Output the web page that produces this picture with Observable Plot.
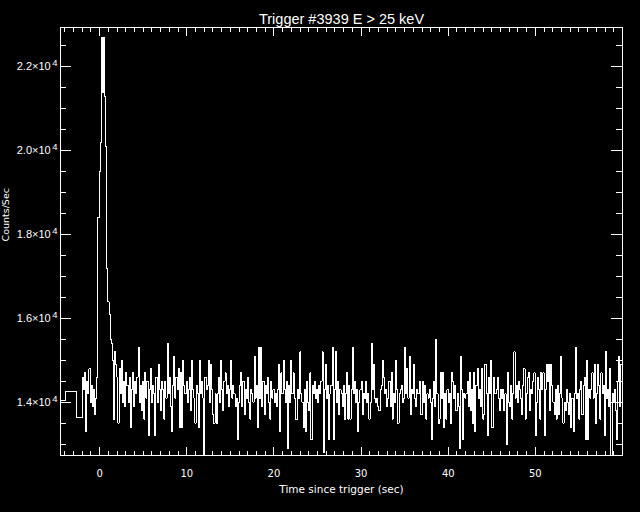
<!DOCTYPE html>
<html><head><meta charset="utf-8">
<script src="https://cdn.jsdelivr.net/npm/d3@7"></script>
<script src="https://cdn.jsdelivr.net/npm/@observablehq/plot@0.6"></script>
<style>
html,body{margin:0;padding:0;background:#000;overflow:hidden;}
#chart svg{display:block;}
</style></head><body><div id="chart"></div>
<script>
const titleText = "Trigger #3939 E > 25 keV";
const xLabel = "Time since trigger (sec)";
const yLabel = "Counts/Sec";
const xTickValues = [0, 10, 20, 30, 40, 50];
const xTickLabels = ["0", "10", "20", "30", "40", "50"];
const yTickValues = [14000, 16000, 18000, 20000, 22000];
const yTickMantissa = ["1.4×10", "1.6×10", "1.8×10", "2.0×10", "2.2×10"];
const yTickExponent = "4";

// pre-trigger coarse bins (bin start time, counts/sec)
const coarseTimes = [-4.6, -3.93, -2.70];
const coarseCounts = [14050, 14250, 13630];

// fine bins from -2.0 s, 0.128 s each (counts/sec)
const fineStart = -2.0;
const fineStep = 0.128;
const fineCounts = [
14600,14300,14700,13300,14500,14200,14800,14000,
14400,13900,14300,13700,14100,14600,18400,19500,
20200,22700,21400,22700,21300,20100,17200,16400,
16100,15500,15400,15000,13600,15200,14900,14600,
13500,14800,14200,15000,14000,14500,13900,14700,
14400,14000,14600,13400,14300,14700,13900,14500,
14200,14600,15300,14000,14400,13800,14500,13600,
14700,14100,14500,13200,14300,14800,14000,14400,
14200,13200,14600,14000,14900,14300,13800,14500,
14300,13600,14500,14100,15400,14200,14600,13900,
13300,14400,15100,14100,14600,14300,14800,13400,
14700,13400,15000,14400,14200,14500,14000,14300,
14600,13800,15000,14300,14100,13500,14400,14200,
13400,15000,14200,14500,14100,12700,14600,14300,
14400,15000,14000,14900,14300,13700,13500,14200,
13500,14200,14600,14000,15000,14300,13800,14500,
14700,14200,14400,13900,14300,15000,14100,14400,
14200,13900,14100,13100,14000,14400,14700,13900,
14500,13700,14300,14100,14600,14000,13600,14300,
14200,14000,15100,14100,14400,13400,15300,14100,
15300,13900,14500,13700,14400,14200,14600,14000,
13600,14500,14100,14300,14000,14200,13900,14300,
14900,13300,14700,14200,15000,14300,14000,14500,
12900,14400,14000,15000,14200,14700,14100,13600,
13600,14300,14100,15200,14200,14000,13400,14300,
13300,14500,14000,13800,14700,13100,14400,14200,
14500,14100,14300,14000,14400,14200,14500,15200,
12800,14300,14900,14100,14400,13100,14200,14400,
15300,13100,14300,15200,14000,14500,13700,14300,
14200,13900,14400,13600,14200,14700,13600,14400,
13600,14300,15300,14200,14500,14000,14300,13300,
14000,14300,14500,13700,14200,14100,14500,14000,
14200,13600,14000,15400,14300,14900,14100,14000,
14100,13900,13800,14300,14400,15000,14600,14200,
14300,13900,14100,14500,13900,14700,13600,14200,
14000,15000,14300,13500,14200,14300,14400,14000,
14100,15300,14200,14800,14100,15100,13700,14300,
14200,14900,14100,13900,14300,14200,14500,13700,
13700,14500,14000,14400,13600,14200,14100,14300,
14000,13100,14100,14500,13900,15500,14200,13500,
13600,14700,14100,14700,13400,14200,13600,14300,
14000,14200,13500,14700,14500,14100,14400,13800,
14200,13900,12900,15100,14300,13100,14200,14100,
14200,14500,13900,14700,13800,14300,13500,14700,
13300,14400,14800,14100,14300,13900,14800,13600,
13700,14900,14200,13200,14600,14200,15000,13400,
13400,14600,14200,14300,14600,14100,13800,14300,
14100,14300,13800,14200,13000,14700,14000,13900,
14400,13600,14200,15200,14100,14400,14000,14500,
14300,14100,13700,14400,14800,13600,14200,14600,
14700,13800,14300,14200,14500,14700,13200,14000,
14600,14300,13600,14700,14300,14700,13200,14300,
14900,14500,14900,13800,14900,14400,14000,13700,
14300,13600,14400,13700,14200,15100,14100,13500,
14000,13800,14300,14000,13700,14200,13400,14100,
13300,14200,15300,14100,14200,13600,14300,14500,
13700,14400,14600,13100,15000,13100,14300,14100,
14300,14700,14100,14900,13500,14200,14900,14400,
13600,14700,14200,14400,13200,15200,14100,14300,
13900,14800,12700,14200,14000,14300,13800,13100,
14500,15100,13900,14900,13200,14000,14200,14100
];

const data = [
  ...coarseTimes.map((t, i) => ({t, c: coarseCounts[i]})),
  ...fineCounts.map((c, i) => ({t: fineStart + i * fineStep, c}))
];

const W = 640, H = 512, mL = 60, mR = 18, mT = 27, mB = 57;
const plotH = H - mT - mB;
const plotW = W - mL - mR;
const xMinor = d3.range(-4, 60, 1).filter(v => v % 10 !== 0);
const yMinor = d3.range(13000, 23000, 500).filter(v => v % 2000 !== 0);
const crisp = {stroke: "white", strokeWidth: 1, shapeRendering: "crispEdges"};

const chart = Plot.plot({
  width: W, height: H,
  marginLeft: mL, marginRight: mR, marginTop: mT, marginBottom: mB,
  style: {background: "black", color: "white", fontFamily: "DejaVu Sans"},
  x: {domain: [-4.5, 60]},
  y: {domain: [12730, 22940]},
  marks: [
    Plot.line(data, {x: "t", y: "c", curve: "step-after", clip: true, ...crisp}),
    Plot.frame(crisp),
    // bottom ticks
    Plot.tickX(xTickValues, {x: d => d, insetTop: plotH - 8, ...crisp}),
    Plot.tickX(xMinor, {x: d => d, insetTop: plotH - 4, ...crisp}),
    // top ticks
    Plot.tickX(xTickValues, {x: d => d, insetBottom: plotH - 9, ...crisp}),
    Plot.tickX(xMinor, {x: d => d, insetBottom: plotH - 5, ...crisp}),
    // left ticks
    Plot.tickY(yTickValues, {y: d => d, insetRight: plotW - 11, ...crisp}),
    Plot.tickY(yMinor, {y: d => d, insetRight: plotW - 6, ...crisp}),
    // right ticks
    Plot.tickY(yTickValues, {y: d => d, insetLeft: plotW - 11, ...crisp}),
    Plot.tickY(yMinor, {y: d => d, insetLeft: plotW - 6, ...crisp}),
    Plot.axisX(xTickValues, {anchor: "bottom", tickSize: 0, tickPadding: 14, label: null,
      tickFormat: d => xTickLabels[xTickValues.indexOf(d)], fontSize: 10, fill: "white"}),
    Plot.axisY(yTickValues, {anchor: "left", tickSize: 0, tickPadding: 3, label: null,
      tickFormat: d => yTickMantissa[yTickValues.indexOf(d)], fontSize: 11, fill: "white",
      fontFamily: "Liberation Sans"}),
    Plot.text([titleText], {frameAnchor: "top", dy: -14, text: d => d, fill: "white", fontSize: 14.5,
      fontFamily: "Liberation Sans"}),
    Plot.text([xLabel], {frameAnchor: "bottom", dy: 37, text: d => d, fill: "white", fontSize: 10.5}),
    Plot.text([yLabel], {frameAnchor: "left", dx: -55, rotate: -90, text: d => d, fill: "white", fontSize: 9.5})
  ]
});

// add raised exponent after each y tick mantissa
d3.select(chart).selectAll('g[aria-label="y-axis tick label"] text').each(function() {
  const t = d3.select(this);
  const txt = t.text();
  t.text(null);
  t.append("tspan").text(txt);
  t.append("tspan").attr("dx", "1.5").attr("dy", "-0.45em").attr("font-size", "9.5").text(yTickExponent);
});
document.getElementById("chart").appendChild(chart);
</script>
</body></html>
